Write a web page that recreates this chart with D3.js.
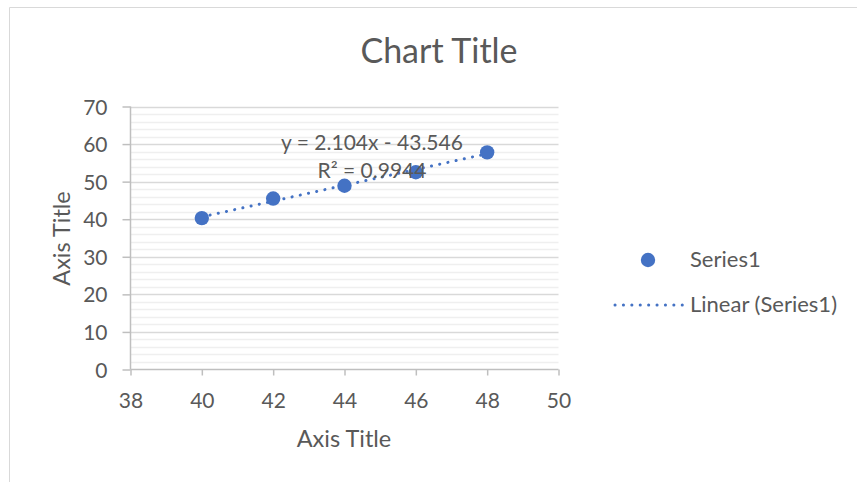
<!DOCTYPE html>
<html><head><meta charset="utf-8">
<script src="https://cdn.jsdelivr.net/npm/d3@7"></script>
<style>body{margin:0;background:#fff}svg{display:block}text{font-family:Lato,"Open Sans",sans-serif;fill:#595959}</style>
</head><body><svg id="c" width="857" height="482"></svg>
<script>
const xValues = [40, 42, 44, 46, 48];
const yValues = [40.3, 45.5, 48.9, 52.5, 57.8];
const xTicks = [38, 40, 42, 44, 46, 48, 50];
const yTicks = [0, 10, 20, 30, 40, 50, 60, 70];
const trendSlope = 2.104, trendIntercept = -43.546;
const equationLabel = "y = 2.104x - 43.546";
const r2Label = "R² = 0.9944";
const seriesName = "Series1";
const trendName = "Linear (Series1)";
const titleText = "Chart Title";
const xTitle = "Axis Title", yTitle = "Axis Title";

const svg = d3.select("#c");
const blue = "#4472C4";
// chart border
svg.append("path").attr("d","M9.5,482 V7.5 H857").attr("fill","none").attr("stroke","#d9d9d9");

const x = d3.scaleLinear().domain([38,50]).range([130.5,558.5]);
const y = d3.scaleLinear().domain([0,70]).range([369.5,106.5]);

// minor gridlines
const minor = d3.range(0,71,2).filter(v=>v%10!==0);
svg.append("g").selectAll("line").data(minor).join("line")
  .attr("x1",x(38)).attr("x2",x(50)).attr("y1",d=>Math.round(y(d))+0.5).attr("y2",d=>Math.round(y(d))+0.5)
  .attr("stroke","#efefef").attr("stroke-width",1.3);
// major gridlines
svg.append("g").selectAll("line").data(yTicks.filter(v=>v>0)).join("line")
  .attr("x1",x(38)).attr("x2",x(50)).attr("y1",d=>Math.round(y(d))+0.5).attr("y2",d=>Math.round(y(d))+0.5)
  .attr("stroke","#d9d9d9").attr("stroke-width",1.3);

// axes
const yAxis = d3.axisLeft(y).tickValues(yTicks).tickSize(8).tickPadding(15);
const gy = svg.append("g").attr("transform",`translate(${x(38)},0)`).call(yAxis);
const xAxis = d3.axisBottom(x).tickValues(xTicks).tickSize(6);
const gx = svg.append("g").attr("transform",`translate(0,${y(0)})`).call(xAxis);
[gx,gy].forEach(g=>{
  g.select(".domain").attr("stroke","#bfbfbf").attr("stroke-width",1.5);
  g.selectAll(".tick line").attr("stroke","#bfbfbf").attr("stroke-width",1.5);
  g.selectAll(".tick text").attr("font-size",21).attr("fill","#595959").attr("font-family","Lato");
});
gx.selectAll(".tick text").attr("y",38.5).attr("dy",0);
gy.selectAll(".tick text").attr("dy","0.36em");
gy.select(".domain").attr("d",`M0,${y(70)}V${y(0)}`);
gx.select(".domain").attr("d",`M${x(38)},0H${x(50)}`);

// trendline
const tx = d3.extent(xValues);
svg.append("line")
  .attr("x1",x(tx[0])).attr("y1",y(trendSlope*tx[0]+trendIntercept))
  .attr("x2",x(tx[1])).attr("y2",y(trendSlope*tx[1]+trendIntercept))
  .attr("stroke",blue).attr("stroke-width",3).attr("stroke-linecap","round").attr("stroke-dasharray","0.1 8.3");

// points
svg.append("g").selectAll("circle").data(xValues.map((v,i)=>[v,yValues[i]])).join("circle")
  .attr("cx",d=>x(d[0])).attr("cy",d=>y(d[1])).attr("r",7.2).attr("fill",blue);

// equation labels
svg.append("text").attr("x",372).attr("y",150).attr("text-anchor","middle").attr("font-size",21).text(equationLabel);
svg.append("text").attr("x",372).attr("y",177.5).attr("text-anchor","middle").attr("font-size",21).text(r2Label);

// titles
svg.append("text").attr("x",439).attr("y",63).attr("text-anchor","middle").attr("font-size",34).text(titleText);
svg.append("text").attr("x",344).attr("y",447).attr("text-anchor","middle").attr("font-size",23.5).text(xTitle);
svg.append("text").attr("transform","translate(69.5,238.5) rotate(-90)").attr("text-anchor","middle").attr("font-size",23.5).text(yTitle);

// legend
svg.append("circle").attr("cx",648).attr("cy",260).attr("r",7.2).attr("fill",blue);
svg.append("text").attr("x",690).attr("y",267).attr("font-size",22).text(seriesName);
svg.append("line").attr("x1",615).attr("x2",683).attr("y1",305).attr("y2",305)
  .attr("stroke",blue).attr("stroke-width",3).attr("stroke-linecap","round").attr("stroke-dasharray","0.1 8.3");
svg.append("text").attr("x",690).attr("y",312).attr("font-size",22).text(trendName);
</script></body></html>
